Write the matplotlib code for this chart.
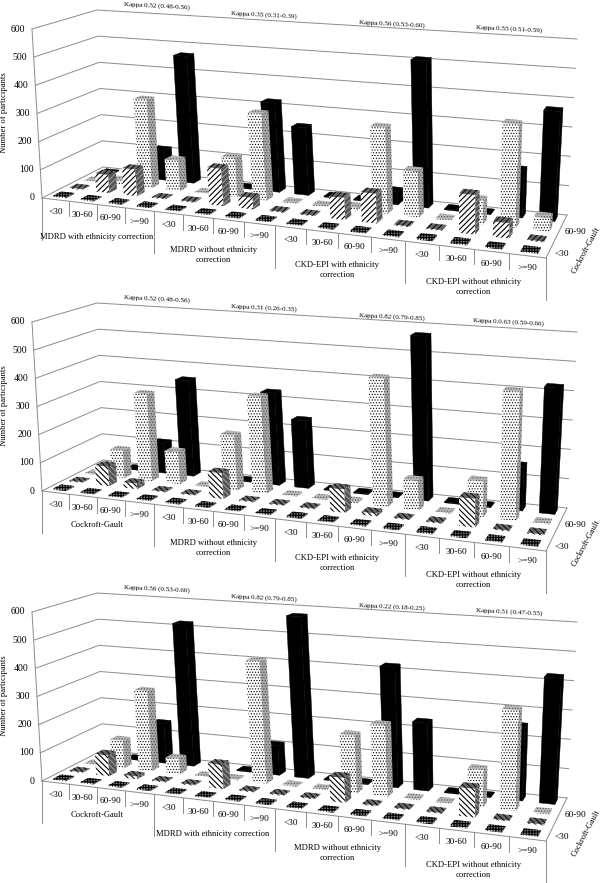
#!/usr/bin/env python3
import numpy as np
import matplotlib
matplotlib.use("Agg")
import matplotlib.pyplot as plt
from matplotlib.patches import Polygon

plt.rcParams["font.family"] = ["Liberation Serif", "DejaVu Serif"]
plt.rcParams["hatch.linewidth"] = 0.6

egfr_bands = ["<30", "30-60", "60-90", ">=90"]
y_ticks = [0, 100, 200, 300, 400, 500, 600]

# participants, one list per row of bars, 16 columns (4 bands x 4 equations)
p1_lt30 = [4, 3, 3, 3, 3, 3, 3, 3, 3, 3, 3, 3, 4, 4, 3, 3]
p1_30_60 = [3, 65, 95, 3, 3, 130, 40, 3, 3, 75, 100, 3, 3, 130, 50, 3]
p1_60_90 = [2, 15, 320, 110, 3, 140, 305, 3, 3, 10, 295, 155, 3, 80, 345, 45]
p1_ge90 = [3, 3, 110, 465, 3, 3, 320, 240, 3, 3, 45, 510, 3, 3, 160, 370]

p2_lt30 = [4, 3, 3, 3, 3, 3, 3, 3, 3, 3, 3, 3, 4, 4, 3, 3]
p2_30_60 = [3, 70, 20, 3, 3, 90, 3, 3, 3, 80, 10, 3, 3, 95, 3, 3]
p2_60_90 = [2, 100, 315, 115, 2, 195, 340, 3, 2, 5, 440, 100, 2, 120, 430, 3]
p2_ge90 = [3, 3, 110, 350, 3, 3, 330, 240, 3, 3, 3, 570, 3, 3, 150, 425]

p3_lt30 = [4, 3, 3, 3, 3, 3, 3, 3, 3, 3, 3, 3, 4, 4, 3, 3]
p3_30_60 = [3, 75, 10, 3, 3, 85, 3, 3, 3, 85, 3, 3, 3, 95, 3, 3]
p3_60_90 = [2, 100, 290, 55, 2, 3, 430, 3, 2, 200, 245, 3, 2, 125, 335, 3]
p3_ge90 = [3, 3, 145, 520, 3, 3, 105, 575, 3, 3, 420, 235, 3, 3, 250, 425]

p1_kappa = ["Kappa 0.52 (0.48-0.56)", "Kappa 0.35 (0.31-0.39)", "Kappa 0.56 (0.53-0.60)", "Kappa 0.55 (0.51-0.59)"]
p2_kappa = ["Kappa 0.52 (0.48-0.56)", "Kappa 0.31 (0.26-0.35)", "Kappa 0.82 (0.79-0.85)", "Kappa 0.0.63 (0.59-0.66)"]
p3_kappa = ["Kappa 0.56 (0.53-0.60)", "Kappa 0.82 (0.79-0.85)", "Kappa 0.22 (0.18-0.25)", "Kappa 0.51 (0.47-0.55)"]

p1_groups = ["MDRD with ethnicity correction", "MDRD without ethnicity\ncorrection", "CKD-EPI with ethnicity\ncorrection", "CKD-EPI without ethnicity\ncorrection"]
p2_groups = ["Cockroft-Gault", "MDRD without ethnicity\ncorrection", "CKD-EPI with ethnicity\ncorrection", "CKD-EPI without ethnicity\ncorrection"]
p3_groups = ["Cockroft-Gault", "MDRD with ethnicity correction", "MDRD without ethnicity\ncorrection", "CKD-EPI without ethnicity\ncorrection"]

# box corners in pixels for the top panel: (column, row) -> pixel
floor_px = [(42, 198), (546, 258), (567, 215), (103, 167)]
ceil_px = [(32, 29), (556, 68), (577, 39), (97, 10)]
box = [(0, 0), (16, 0), (16, 4), (0, 4)]


def homography(src, dst):
    rows = []
    rhs = []
    for (x, y), (u, v) in zip(src, dst):
        rows.append([x, y, 1, 0, 0, 0, -u * x, -u * y])
        rows.append([0, 0, 0, x, y, 1, -v * x, -v * y])
        rhs += [u, v]
    h = np.linalg.solve(np.array(rows, float), np.array(rhs, float))
    return np.append(h, 1).reshape(3, 3)


H_FLOOR = homography(box, floor_px)
H_CEIL = homography(box, ceil_px)


def project(col, row, value, dy=0):
    # the original's columns are spaced a bit more evenly than the corners imply
    col = col + (0.15 + 0.05 * row) * np.sin(np.pi * col / 16)
    p = np.array([col, row, 1.0])
    a = H_FLOOR @ p
    b = H_CEIL @ p
    a = a[:2] / a[2]
    b = b[:2] / b[2]
    pt = a + (b - a) * value / 600.0
    return pt[0], pt[1] + dy


def style_for(row, stripe):
    # (front, side, top), each as facecolor, hatch colour, hatch, hatch width
    if row == 3:
        s = ("black", "black", None, 0.6)
        return s, s, s
    if row == 2:
        return (("white", "black", "......", 0.5),
                ("#a8a8a8", "#444444", "......", 0.5),
                ("#b8b8b8", "#555555", "......", 0.5))
    if row == 1:
        return (("white", "black", stripe, 0.8),
                ("#555555", "#aaaaaa", stripe, 0.6),
                ("#666666", "black", stripe, 0.7))
    return (("white", "black", "++++++", 0.6),
            ("#444444", "#888888", "++++++", 0.6),
            ("#777777", "black", "++++++", 0.8))


def draw_face(ax, pts, spec, z):
    face, hcol, hatch, hw = spec
    plt.rcParams["hatch.linewidth"] = hw
    lw = 0.3 if hatch is None else 0
    ax.add_patch(Polygon(pts, closed=True, facecolor=face, edgecolor=hcol,
                         hatch=hatch, linewidth=lw, zorder=z))


def draw_bar(ax, col, row, value, dy, stripe, z):
    width = 0.48
    depth = 0.5
    x0 = col + 0.5 - width / 2
    x1 = col + 0.5 + width / 2
    y0 = row + 0.5 - depth / 2
    y1 = row + 0.5 + depth / 2
    front, side, top = style_for(row, stripe)
    draw_face(ax, [project(x0, y0, 0, dy), project(x1, y0, 0, dy),
                   project(x1, y0, value, dy), project(x0, y0, value, dy)], front, z)
    draw_face(ax, [project(x1, y0, 0, dy), project(x1, y1, 0, dy),
                   project(x1, y1, value, dy), project(x1, y0, value, dy)], side, z)
    draw_face(ax, [project(x0, y0, value, dy), project(x1, y0, value, dy),
                   project(x1, y1, value, dy), project(x0, y1, value, dy)], top, z)


def draw_panel(ax, rows, kappas, groups, dy, stripe):
    line = "#8c8c8c"
    for v in y_ticks:
        a = project(0, 0, v, dy)
        b = project(0, 4, v, dy)
        c = project(16, 4, v, dy)
        ax.plot([a[0], b[0], c[0]], [a[1], b[1], c[1]], color=line, lw=0.7, zorder=1)
        ax.text(a[0] - 7, a[1], str(v), ha="right", va="center", fontsize=7)

    for p, q in [((0, 0, 0), (0, 0, 600)), ((0, 0, 0), (16, 0, 0)), ((16, 0, 0), (16, 4, 0))]:
        a = project(*p, dy)
        b = project(*q, dy)
        ax.plot([a[0], b[0]], [a[1], b[1]], color=line, lw=0.7, zorder=1)

    # ticks under the front edge, longer at each equation
    for i in range(17):
        a = project(i, 0, 0, dy)
        length = 42 if i % 4 == 0 else 15
        ax.plot([a[0], a[0]], [a[1], a[1] + length], color=line, lw=0.7, zorder=1)

    for i in range(16):
        a = project(i + 0.5, 0, 0, dy)
        ax.text(a[0], a[1] + 12, egfr_bands[i % 4], ha="center", va="center", fontsize=6.7)

    group_y = [237, 255, 270, 287]
    group_x = [97, 213, 337, 473]
    for i, label in enumerate(groups):
        y = group_y[i]
        if "\n" not in label and i == 1:
            y = 251
        if "\n" not in label and i == 0 and label != "MDRD with ethnicity correction":
            y = 232
        ax.text(group_x[i], y + dy, label, ha="center", va="center", fontsize=6.1, linespacing=1.3)

    kappa_x = [157, 264, 392, 509]
    kappa_y = [6, 15, 24, 29]
    for i, label in enumerate(kappas):
        ax.text(kappa_x[i], kappa_y[i] + dy, label, ha="center", va="center",
                fontsize=5.1, rotation=-3)

    ax.text(4.5, 113 + dy, "Number of participants", rotation=90, ha="center", va="center", fontsize=6.2)
    ax.text(562, 254 + dy, "<30", ha="center", va="center", fontsize=6.7)
    ax.text(575, 232 + dy, "60-90", ha="center", va="center", fontsize=6.7)
    ax.text(586, 250 + dy, "Cockroft-Gault", rotation=62, ha="center", va="center", fontsize=6.0)

    # back row first so nearer bars paint over it
    z = 2
    for row in range(3, -1, -1):
        for col in range(16):
            draw_bar(ax, col, row, rows[row][col], dy, stripe, z)
            z += 1


def main():
    fig = plt.figure(figsize=(6.0, 8.83), dpi=100)
    ax = fig.add_axes([0, 0, 1, 1])
    ax.set_xlim(0, 600)
    ax.set_ylim(883, 0)
    ax.axis("off")

    draw_panel(ax, [p1_lt30, p1_30_60, p1_60_90, p1_ge90], p1_kappa, p1_groups, 0, "//////")
    draw_panel(ax, [p2_lt30, p2_30_60, p2_60_90, p2_ge90], p2_kappa, p2_groups, 293, "\\\\\\\\\\\\")
    draw_panel(ax, [p3_lt30, p3_30_60, p3_60_90, p3_ge90], p3_kappa, p3_groups, 583, "\\\\\\\\\\\\")

    fig.savefig("out.png", dpi=100)


if __name__ == "__main__":
    main()
